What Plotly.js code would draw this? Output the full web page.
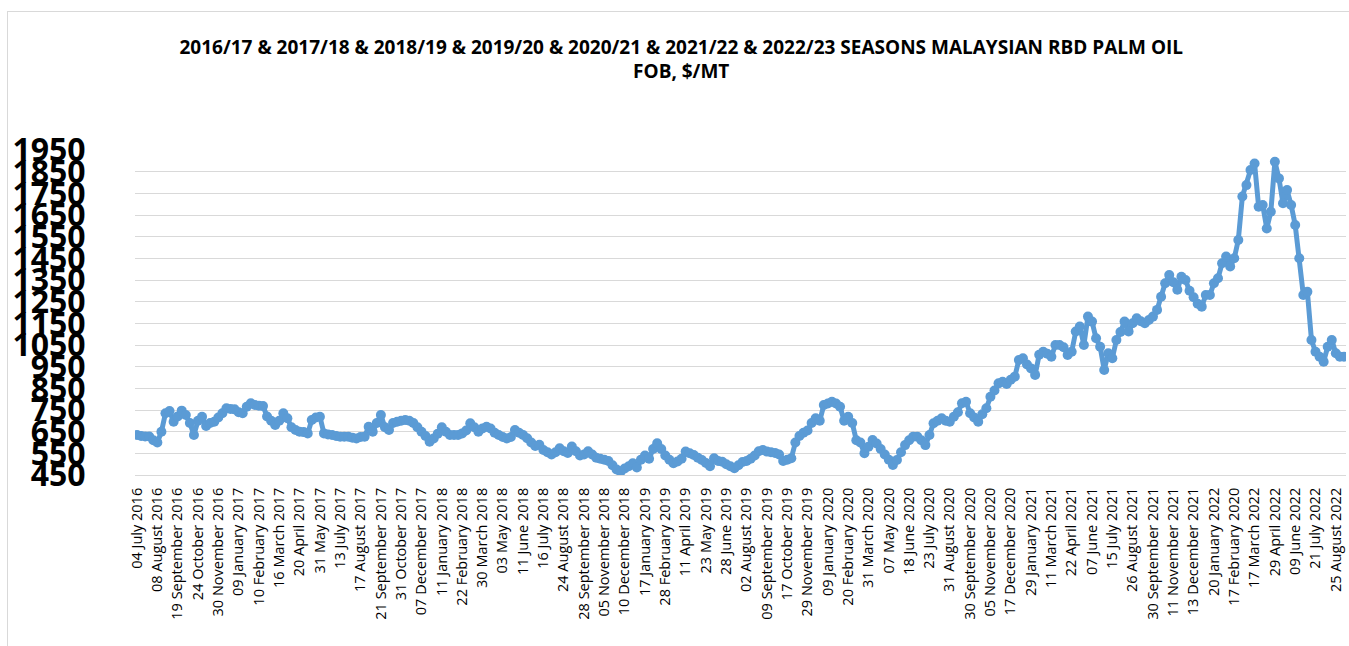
<!DOCTYPE html>
<html>
<head>
<meta charset="utf-8">
<script src="https://cdn.plot.ly/plotly-3.0.1.min.js"></script>
<style>
  html, body { margin: 0; padding: 0; background: #ffffff; overflow: hidden; }
  #chart { position: absolute; left: 0; top: 0; width: 1349px; height: 646px; }
  #frame { position: absolute; left: 7px; top: 11px; width: 1400px; height: 700px;
           border: 1px solid #d9d9d9; pointer-events: none; }
</style>
</head>
<body>
<div id="chart"></div>
<div id="frame"></div>
<script>
// Tick labels shown on the category axis (one every 5 observations)
const tickLabels = [
  "04 July 2016", "08 August 2016", "19 September 2016", "24 October 2016", "30 November 2016",
  "09 January 2017", "10 February 2017", "16 March 2017", "20 April 2017", "31 May 2017",
  "13 July 2017", "17 August 2017", "21 September 2017", "31 October 2017", "07 December 2017",
  "11 January 2018", "22 February 2018", "30 March 2018", "03 May 2018", "11 June 2018",
  "16 July 2018", "24 August 2018", "28 September 2018", "05 November 2018", "10 December 2018",
  "17 January 2019", "28 February 2019", "11 April 2019", "23 May 2019", "28 June 2019",
  "02 August 2019", "09 September 2019", "17 October 2019", "29 November 2019", "09 January 2020",
  "20 February 2020", "31 March 2020", "07 May 2020", "18 June 2020", "23 July 2020",
  "31 August 2020", "30 September 2020", "05 November 2020", "17 December 2020", "29 January 2021",
  "11 March 2021", "22 April 2021", "07 June 2021", "15 July 2021", "26 August 2021",
  "30 September 2021", "11 November 2021", "13 December 2021", "20 January 2022", "17 February 2020",
  "17 March 2022", "29 April 2022", "09 June 2022", "21 July 2022", "25 August 2022"
];
const labelEvery = 5;

// Malaysian RBD palm oil FOB price, $/MT (one value per observation)
const prices = [
  635, 630, 628, 628, 610, 600, 650, 735, 745, 696,
  720, 747, 727, 690, 635, 700, 719, 676, 690, 696,
  715, 735, 758, 755, 753, 740, 735, 765, 781, 773,
  770, 768, 720, 700, 681, 700, 735, 712, 670, 658,
  650, 648, 642, 704, 715, 719, 642, 637, 635, 630,
  627, 627, 627, 622, 619, 625, 627, 673, 650, 690,
  727, 670, 658, 690, 696, 700, 704, 700, 690, 670,
  650, 630, 604, 619, 640, 670, 650, 635, 635, 635,
  642, 655, 689, 670, 650, 665, 673, 665, 645, 635,
  625, 619, 625, 658, 645, 635, 620, 600, 584, 590,
  565, 555, 545, 555, 573, 560, 552, 581, 560, 540,
  545, 560, 545, 530, 525, 520, 515, 495, 475, 465,
  480, 490, 504, 485, 520, 540, 525, 570, 596, 570,
  540, 520, 504, 512, 525, 558, 550, 542, 530, 519,
  505, 490, 527, 515, 511, 500, 490, 481, 495, 510,
  515, 525, 540, 560, 565, 558, 555, 552, 545, 515,
  520, 527, 600, 630, 645, 655, 690, 712, 700, 773,
  780, 788, 780, 765, 700, 719, 690, 610, 600, 550,
  580, 611, 595, 570, 545, 520, 496, 519, 555, 588,
  610, 627, 627, 610, 588, 635, 689, 700, 712, 700,
  696, 719, 740, 781, 788, 735, 715, 696, 730, 758,
  811, 840, 873, 880, 870, 890, 904, 981, 989, 960,
  942, 912, 1005, 1019, 1010, 996, 1050, 1050, 1040, 1004,
  1019, 1112, 1135, 1050, 1181, 1158, 1081, 1042, 935, 1012,
  989, 1073, 1110, 1158, 1112, 1150, 1173, 1160, 1150, 1165,
  1181, 1212, 1273, 1335, 1373, 1340, 1305, 1365, 1350, 1300,
  1270, 1240, 1227, 1281, 1281, 1335, 1358, 1427, 1458, 1412,
  1450, 1535, 1735, 1788, 1858, 1888, 1688, 1696, 1588, 1665,
  1896, 1819, 1704, 1765, 1696, 1604, 1450, 1281, 1296, 1073,
  1019, 996, 973, 1042, 1073, 1012, 996, 996
];

const yMin = 450, yMax = 1950, yStep = 100;
const titleText = "2016/17 & 2017/18 & 2018/19 & 2019/20 & 2020/21 & 2021/22 & 2022/23 SEASONS MALAYSIAN RBD PALM OIL<br>FOB, $/MT";

const xIdx = prices.map((_, i) => i);
const tickVals = tickLabels.map((_, k) => k * labelEvery);

const trace = {
  type: 'scatter',
  mode: 'lines+markers',
  x: xIdx,
  y: prices,
  line: { color: '#5B9BD5', width: 5 },
  marker: { color: '#5B9BD5', size: 10, line: { width: 0 } },
  hoverinfo: 'y',
  showlegend: false
};

const layout = {
  width: 1349,
  height: 646,
  margin: { l: 135, r: 3, t: 150, b: 171, pad: 0 },
  paper_bgcolor: '#ffffff',
  plot_bgcolor: '#ffffff',
  title: {
    text: titleText,
    font: { family: 'Open Sans, sans-serif', size: 19, color: '#000000', weight: 'bold' },
    xref: 'container', x: 0.505, xanchor: 'center',
    yref: 'container', y: 0.917, yanchor: 'top'
  },
  xaxis: {
    range: [-0.5, prices.length - 0.5],
    tickmode: 'array',
    tickvals: tickVals,
    ticktext: tickLabels,
    tickangle: -90,
    tickfont: { family: 'Open Sans, sans-serif', size: 14.5, color: '#000000' },
    ticks: 'outside', ticklen: 6, tickcolor: 'rgba(0,0,0,0)',
    showgrid: false,
    zeroline: false,
    showline: true, linecolor: '#d9d9d9', linewidth: 1
  },
  yaxis: {
    range: [yMin, yMax],
    tickmode: 'linear', tick0: yMin, dtick: yStep,
    tickfont: { family: 'Open Sans, sans-serif', size: 32, color: '#000000', weight: 'bold' },
    ticks: 'outside', ticklen: 42, tickcolor: 'rgba(0,0,0,0)',
    showgrid: true, gridcolor: '#d9d9d9', gridwidth: 1,
    zeroline: false, showline: false
  }
};

Plotly.newPlot('chart', [trace], layout, { displayModeBar: false, staticPlot: true });
</script>
</body>
</html>
